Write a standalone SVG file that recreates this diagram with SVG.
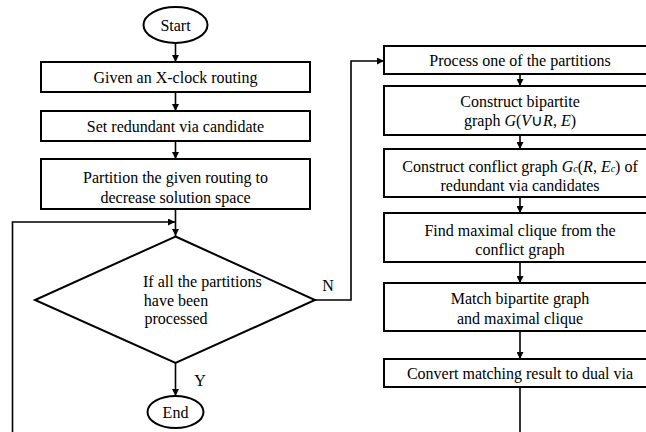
<svg xmlns="http://www.w3.org/2000/svg" width="646" height="432" viewBox="0 0 646 432" font-family="'Liberation Serif', 'Times New Roman', Times, serif">
<defs>
<marker id="ah" viewBox="0 0 8 8" refX="8" refY="4" markerWidth="7" markerHeight="7" markerUnits="userSpaceOnUse" orient="auto">
<path d="M0,0 L8,4 L0,8 Z" fill="#000"/>
</marker>
</defs>
<style>
.box{fill:#fff;stroke:#000;stroke-width:2}
text{font-family:'Liberation Serif','Times New Roman',Times,serif}
.t{font-size:16px;fill:#000;text-anchor:middle}
.c{fill:none;stroke:#000;stroke-width:1.6}
.a{marker-end:url(#ah)}
.i{font-style:italic}
</style>
<rect width="646" height="432" fill="#fff"/>
<g id="connectors">
<line class="c a" x1="175.5" y1="43" x2="175.5" y2="62"/>
<line class="c a" x1="175.5" y1="92" x2="175.5" y2="111"/>
<line class="c a" x1="175.5" y1="141" x2="175.5" y2="159"/>
<line class="c a" x1="175.5" y1="209" x2="175.5" y2="236"/>
<polyline class="c a" points="12.5,432 12.5,222 175,222"/>
<line class="c a" x1="175.5" y1="363" x2="175.5" y2="396"/>
<polyline class="c a" points="315,300 351,300 351,61 384,61"/>
<line class="c a" x1="520" y1="74" x2="520" y2="86"/>
<line class="c a" x1="520" y1="135" x2="520" y2="149"/>
<line class="c a" x1="520" y1="197" x2="520" y2="213"/>
<line class="c a" x1="520" y1="262" x2="520" y2="283"/>
<line class="c a" x1="520" y1="331" x2="520" y2="359"/>
<line class="c" x1="520" y1="387" x2="520" y2="432"/>
<text class="t" x="328" y="291">N</text>
<text class="t" x="200" y="386">Y</text>
</g>
<g id="start">
<ellipse class="box" cx="175.5" cy="25" rx="32" ry="18"/>
<text class="t" x="175.5" y="30.5">Start</text>
</g>
<g id="given">
<rect class="box" x="41" y="62" width="269" height="30"/>
<text class="t" x="175.5" y="82.5">Given an X-clock routing</text>
</g>
<g id="set">
<rect class="box" x="41" y="111" width="269" height="30"/>
<text class="t" x="175.5" y="131.5">Set redundant via candidate</text>
</g>
<g id="partition">
<rect class="box" x="41" y="159" width="269" height="50"/>
<text class="t" x="175.5" y="182.5">Partition the given routing to</text>
<text class="t" x="175.5" y="202.5">decrease solution space</text>
</g>
<g id="decision">
<polygon class="box" points="175.5,236.5 315,300 175.5,363 35,300"/>
<text class="t" x="143" y="287" style="text-anchor:start">If all the partitions</text>
<text class="t" x="176" y="305.5">have been</text>
<text class="t" x="176" y="324">processed</text>
</g>
<g id="end">
<ellipse class="box" cx="175.5" cy="412" rx="28" ry="16"/>
<text class="t" x="175.5" y="417.5">End</text>
</g>
<g id="process">
<rect class="box" x="384" y="46" width="273" height="28"/>
<text class="t" x="520" y="65.5">Process one of the partitions</text>
</g>
<g id="bipartite">
<rect class="box" x="384" y="86" width="273" height="49"/>
<text class="t" x="520" y="107">Construct bipartite</text>
<text class="t" x="520" y="125.5">graph <tspan class="i">G</tspan>(<tspan class="i">V</tspan>∪<tspan class="i">R</tspan>, <tspan class="i">E</tspan>)</text>
</g>
<g id="conflict">
<rect class="box" x="384" y="149" width="273" height="48"/>
<text class="t" x="520" y="172">Construct conflict graph <tspan class="i">G</tspan><tspan class="i" font-size="10">c</tspan>(<tspan class="i">R</tspan>, <tspan class="i">E</tspan><tspan class="i" font-size="10">c</tspan>) of</text>
<text class="t" x="520" y="190.5">redundant via candidates</text>
</g>
<g id="clique">
<rect class="box" x="384" y="213" width="273" height="49"/>
<text class="t" x="520" y="235.5">Find maximal clique from the</text>
<text class="t" x="520" y="254.5">conflict graph</text>
</g>
<g id="match">
<rect class="box" x="384" y="283" width="273" height="48"/>
<text class="t" x="520" y="303.5">Match bipartite graph</text>
<text class="t" x="520" y="323.5">and maximal clique</text>
</g>
<g id="convert">
<rect class="box" x="384" y="359" width="273" height="28"/>
<text class="t" x="520" y="379">Convert matching result to dual via</text>
</g>
</svg>
